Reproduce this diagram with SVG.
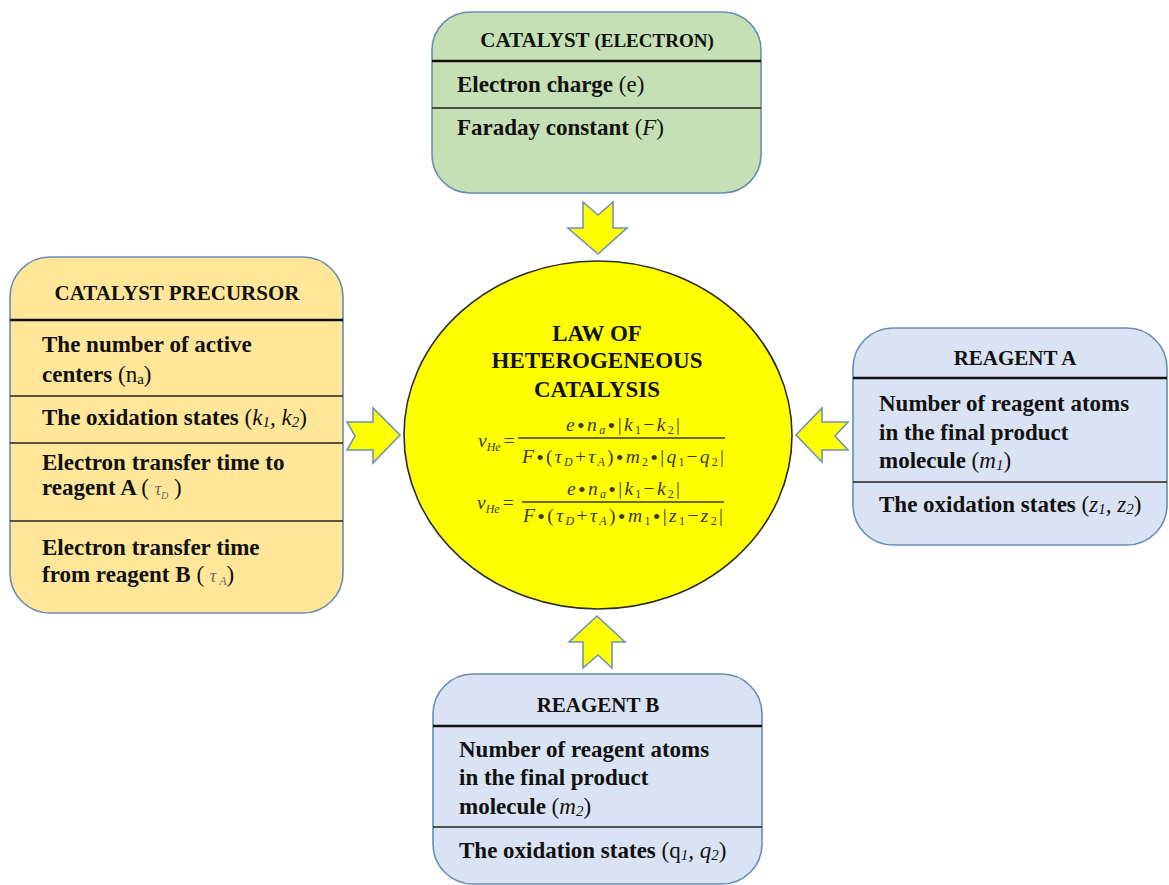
<svg xmlns="http://www.w3.org/2000/svg" width="1169" height="885" viewBox="0 0 1169 885">
  <style>
    .box { stroke: #6a8db5; stroke-width: 1.6; }
    .hdr { stroke: #111; stroke-width: 2.6; }
    .div { stroke: #222; stroke-width: 1.4; }
    .h { font-family: "Liberation Serif", "Times New Roman", serif; font-weight: bold; font-size: 21px; text-anchor: middle; fill: #111; }
    .b { font-family: "Liberation Serif", "Times New Roman", serif; font-weight: bold; font-size: 23px; fill: #111; }
    .r { font-weight: normal; }
    .i { font-weight: normal; font-style: italic; }
    .s { font-size: 15px; }
    .g { fill: #6b6b6b; }
    .t { font-family: "Liberation Serif", "Times New Roman", serif; font-weight: bold; font-size: 23px; text-anchor: middle; fill: #111; }
    .eq { font-family: "Liberation Serif", "Times New Roman", serif; font-style: italic; font-size: 19.5px; fill: #3a3a26; }
    .es { font-size: 12px; }
    .up { font-style: normal; }
    .dot { font-style: normal; font-size: 22px; }
    .bar { stroke: #3a3a26; stroke-width: 1.3; }
    .arrow { fill: #ffff00; stroke: #6f93b8; stroke-width: 1.6; stroke-linejoin: miter; }
  </style>

  <!-- central law -->
  <g id="law">
    <ellipse cx="598" cy="435" rx="194" ry="174" fill="#ffff00" stroke="#2b2b2b" stroke-width="1.6"/>
    <text class="t" x="597" y="341">LAW OF</text>
    <text class="t" x="597" y="368">HETEROGENEOUS</text>
    <text class="t" x="597" y="397">CATALYSIS</text>

    <!-- rate expression with m2 and q -->
    <text class="eq" x="478" y="447">v<tspan class="es" dy="4">He</tspan><tspan class="up" dy="-4" dx="3">=</tspan></text>
    <line class="bar" x1="518" y1="438" x2="725" y2="438"/>
    <text class="eq" x="566" y="431" textLength="114" lengthAdjust="spacing">e<tspan class="dot" dy="2">•</tspan><tspan dy="-2">n</tspan><tspan class="es" dy="3">a</tspan><tspan class="dot" dy="-1">•</tspan><tspan class="up" dy="-2">|</tspan>k<tspan class="es up" dy="3">1</tspan><tspan class="up" dy="-3">−</tspan>k<tspan class="es up" dy="3">2</tspan><tspan class="up" dy="-3">|</tspan></text>
    <text class="eq" x="522" y="463" textLength="202" lengthAdjust="spacing">F<tspan class="dot" dy="2">•</tspan><tspan class="up" dy="-2">(</tspan>τ<tspan class="es" dy="3">D</tspan><tspan class="up" dy="-3">+</tspan>τ<tspan class="es" dy="3">A</tspan><tspan class="up" dy="-3">)</tspan><tspan class="dot" dy="2">•</tspan><tspan dy="-2">m</tspan><tspan class="es up" dy="3">2</tspan><tspan class="dot" dy="-1">•</tspan><tspan class="up" dy="-2">|</tspan>q<tspan class="es up" dy="3">1</tspan><tspan class="up" dy="-3">−</tspan>q<tspan class="es up" dy="3">2</tspan><tspan class="up" dy="-3">|</tspan></text>

    <!-- rate expression with m1 and z -->
    <text class="eq" x="477" y="509">v<tspan class="es" dy="4">He</tspan><tspan class="up" dy="-4" dx="3">=</tspan></text>
    <line class="bar" x1="522" y1="502" x2="724" y2="502"/>
    <text class="eq" x="567" y="495" textLength="113" lengthAdjust="spacing">e<tspan class="dot" dy="2">•</tspan><tspan dy="-2">n</tspan><tspan class="es" dy="3">a</tspan><tspan class="dot" dy="-1">•</tspan><tspan class="up" dy="-2">|</tspan>k<tspan class="es up" dy="3">1</tspan><tspan class="up" dy="-3">−</tspan>k<tspan class="es up" dy="3">2</tspan><tspan class="up" dy="-3">|</tspan></text>
    <text class="eq" x="523" y="522" textLength="200" lengthAdjust="spacing">F<tspan class="dot" dy="2">•</tspan><tspan class="up" dy="-2">(</tspan>τ<tspan class="es" dy="3">D</tspan><tspan class="up" dy="-3">+</tspan>τ<tspan class="es" dy="3">A</tspan><tspan class="up" dy="-3">)</tspan><tspan class="dot" dy="2">•</tspan><tspan dy="-2">m</tspan><tspan class="es up" dy="3">1</tspan><tspan class="dot" dy="-1">•</tspan><tspan class="up" dy="-2">|</tspan>z<tspan class="es up" dy="3">1</tspan><tspan class="up" dy="-3">−</tspan>z<tspan class="es up" dy="3">2</tspan><tspan class="up" dy="-3">|</tspan></text>
  </g>

  <!-- catalyst (electron) -->
  <g id="catalyst">
    <rect class="box" x="432" y="12" width="329" height="181" rx="38" fill="#c5e0b4"/>
    <line class="hdr" x1="432" y1="61" x2="761" y2="61"/>
    <line class="div" x1="432" y1="108" x2="761" y2="108"/>
    <text class="h" x="597" y="47">CATALYST <tspan font-size="19">(ELECTRON)</tspan></text>
    <text class="b" x="457" y="92">Electron charge <tspan class="r">(e)</tspan></text>
    <text class="b" x="457" y="135">Faraday constant <tspan class="r">(</tspan><tspan class="i">F</tspan><tspan class="r">)</tspan></text>
  </g>

  <!-- catalyst precursor -->
  <g id="precursor">
    <rect class="box" x="10" y="257" width="333" height="356" rx="40" fill="#ffe699"/>
    <line class="hdr" x1="10" y1="320" x2="343" y2="320"/>
    <line class="div" x1="10" y1="396" x2="343" y2="396"/>
    <line class="div" x1="10" y1="443" x2="343" y2="443"/>
    <line class="div" x1="10" y1="521" x2="343" y2="521"/>
    <text class="h" x="177" y="300">CATALYST PRECURSOR</text>
    <text class="b" x="42" y="352">The number of active</text>
    <text class="b" x="42" y="382">centers <tspan class="r">(n</tspan><tspan class="r s" dy="2">a</tspan><tspan class="r" dy="-2">)</tspan></text>
    <text class="b" x="42" y="425">The oxidation states <tspan class="r">(</tspan><tspan class="i">k</tspan><tspan class="i s" dy="2">1</tspan><tspan class="i" dy="-2">, k</tspan><tspan class="i s" dy="2">2</tspan><tspan class="r" dy="-2">)</tspan></text>
    <text class="b" x="42" y="470">Electron transfer time to</text>
    <text class="b" x="42" y="495">reagent A <tspan class="r">( </tspan><tspan class="i g" font-size="18">τ</tspan><tspan class="i g" font-size="10" dy="4">D</tspan><tspan class="r" dy="-4"> )</tspan></text>
    <text class="b" x="42" y="555">Electron transfer time</text>
    <text class="b" x="42" y="582">from reagent B <tspan class="r">( </tspan><tspan class="i g" font-size="18">τ</tspan><tspan class="i g" font-size="12" dy="3"> A</tspan><tspan class="r" dy="-3">)</tspan></text>
  </g>

  <!-- reagent A -->
  <g id="reagent-a">
    <rect class="box" x="853" y="328" width="314" height="217" rx="40" fill="#dae3f3"/>
    <line class="hdr" x1="853" y1="378" x2="1167" y2="378"/>
    <line class="div" x1="853" y1="482" x2="1167" y2="482"/>
    <text class="h" x="1015" y="365">REAGENT A</text>
    <text class="b" x="879" y="411">Number of reagent atoms</text>
    <text class="b" x="879" y="440">in the final product</text>
    <text class="b" x="879" y="468">molecule <tspan class="r">(</tspan><tspan class="i">m</tspan><tspan class="i s" dy="2">1</tspan><tspan class="r" dy="-2">)</tspan></text>
    <text class="b" x="879" y="512">The oxidation states <tspan class="r">(</tspan><tspan class="i">z</tspan><tspan class="i s" dy="2">1</tspan><tspan class="i" dy="-2">, z</tspan><tspan class="i s" dy="2">2</tspan><tspan class="r" dy="-2">)</tspan></text>
  </g>

  <!-- reagent B -->
  <g id="reagent-b">
    <rect class="box" x="433" y="674" width="329" height="210" rx="40" fill="#dae3f3"/>
    <line class="hdr" x1="433" y1="726" x2="762" y2="726"/>
    <line class="div" x1="433" y1="827" x2="762" y2="827"/>
    <text class="h" x="598" y="712">REAGENT B</text>
    <text class="b" x="459" y="757">Number of reagent atoms</text>
    <text class="b" x="459" y="785">in the final product</text>
    <text class="b" x="459" y="814">molecule <tspan class="r">(</tspan><tspan class="i">m</tspan><tspan class="i s" dy="2">2</tspan><tspan class="r" dy="-2">)</tspan></text>
    <text class="b" x="459" y="858">The oxidation states <tspan class="r">(q</tspan><tspan class="i s" dy="2">1</tspan><tspan class="i" dy="-2">, q</tspan><tspan class="i s" dy="2">2</tspan><tspan class="r" dy="-2">)</tspan></text>
  </g>

  <!-- block arrows pointing into the law -->
  <g id="connectors">
    <path class="arrow" d="M583,202 L598,215 L613,202 L613,228 L627,228 L598,254 L568,228 L583,228 Z"/>
    <path class="arrow" d="M583,668 L598,655 L612,668 L612,642 L625,642 L597,616 L569,642 L583,642 Z"/>
    <path class="arrow" d="M347,422 L373,422 L373,408 L400,435 L373,463 L373,450 L347,450 L355,436 Z"/>
    <path class="arrow" d="M848,422 L822,422 L822,408 L796,435 L822,462 L822,450 L848,450 L835,436 Z"/>
  </g>
</svg>
